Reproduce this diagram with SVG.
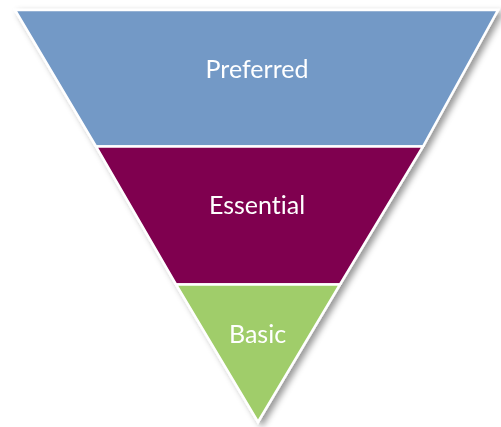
<svg xmlns="http://www.w3.org/2000/svg" width="501" height="427" viewBox="0 0 501 427">
  <style>
    .band { stroke: #ffffff; stroke-width: 2.5; stroke-linejoin: miter; }
    .lbl { font-family: Lato, "Open Sans", "Liberation Sans", sans-serif; font-size: 25px; fill: #ffffff; text-anchor: middle; font-variant-ligatures: none; font-feature-settings: "liga" 0; }
  </style>
  <defs>
    <filter id="shadow" x="-10%" y="-10%" width="125%" height="125%">
      <feDropShadow dx="4" dy="3" stdDeviation="3" flood-color="#000000" flood-opacity="0.4"/>
    </filter>
  </defs>
  <rect width="501" height="427" fill="#ffffff"/>
  <g filter="url(#shadow)">
    <g id="preferred">
      <polygon class="band" points="15,10 498,10 423,146.5 96,146.5" fill="#7399C6"/>
      <text class="lbl" x="257" y="78">Preferred</text>
    </g>
    <g id="essential">
      <polygon class="band" points="96,146.5 423,146.5 340,284.5 176,284.5" fill="#7F004F"/>
      <text class="lbl" x="257" y="214">Essential</text>
    </g>
    <g id="basic">
      <polygon class="band" points="176,284.5 340,284.5 258,422" fill="#A0CD6A"/>
      <text class="lbl" x="257.5" y="343">Basic</text>
    </g>
  </g>
  <g id="connectors"></g>
</svg>
